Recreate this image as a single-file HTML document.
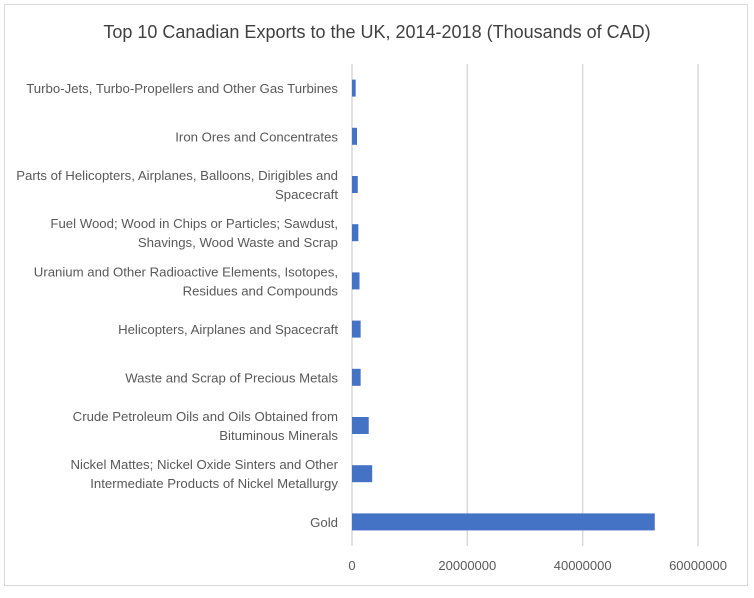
<!DOCTYPE html>
<html><head><meta charset="utf-8"><style>
body{margin:0;background:#fff;font-family:"Liberation Sans",sans-serif;}
svg text{font-family:"Liberation Sans",sans-serif;}
</style></head><body>
<svg width="754" height="593" xmlns="http://www.w3.org/2000/svg">
<rect x="4.5" y="4.5" width="743" height="581" fill="#fff" stroke="#d9d9d9"/>
<text x="377" y="38" text-anchor="middle" font-size="18" fill="#404040">Top 10 Canadian Exports to the UK, 2014-2018 (Thousands of CAD)</text>
<g id="grid"></g><g id="bars"></g><g id="labels"></g><g id="ticks"></g>
</svg>
<script>
const categories=[["Gold"],["Nickel Mattes; Nickel Oxide Sinters and Other","Intermediate Products of Nickel Metallurgy"],["Crude Petroleum Oils and Oils Obtained from","Bituminous Minerals"],["Waste and Scrap of Precious Metals"],["Helicopters, Airplanes and Spacecraft"],["Uranium and Other Radioactive Elements, Isotopes,","Residues and Compounds"],["Fuel Wood; Wood in Chips or Particles; Sawdust,","Shavings, Wood Waste and Scrap"],["Parts of Helicopters, Airplanes, Balloons, Dirigibles and","Spacecraft"],["Iron Ores and Concentrates"],["Turbo-Jets, Turbo-Propellers and Other Gas Turbines"]];
const values=[52500000,3500000,2900000,1500000,1500000,1300000,1100000,1000000,870000,640000];
const ticks=[0,20000000,40000000,60000000];
const NS="http://www.w3.org/2000/svg";
const x0=352,x1=698,yTop=64,yBot=546;
const xs=v=>x0+(v-0)/60000000*(x1-x0);
const band=(yBot-yTop)/categories.length;
const yc=i=>yBot-band*(i+0.5);
function mk(t,a,p){const e=document.createElementNS(NS,t);for(const k in a)e.setAttribute(k,a[k]);p.appendChild(e);return e;}
const G=document.getElementById('grid'),B=document.getElementById('bars'),L=document.getElementById('labels'),T=document.getElementById('ticks');
ticks.forEach((t,i)=>{
 const l=mk('line',{x1:xs(t),x2:xs(t),y1:yTop,y2:yBot,stroke:'#d9d9d9','stroke-width':1.5},G);
 
 
 const tx=mk('text',{x:xs(t),y:570,'text-anchor':'middle','font-size':13,fill:'#595959'},T);
 tx.textContent=String(t);
 
 
});
values.forEach((v,i)=>{
 const r=mk('rect',{x:x0,y:yc(i)-8.5,width:xs(v)-x0,height:17,fill:'#4472c4'},B);
 
 
 const lines=categories[i];
 lines.forEach((s,j)=>{
  const tx=mk('text',{x:338,y:yc(i)+5+(j-(lines.length-1)/2)*19,'text-anchor':'end','font-size':13.2,fill:'#595959'},L);
  tx.textContent=s;
  
  
 });
});
</script>
</body></html>
